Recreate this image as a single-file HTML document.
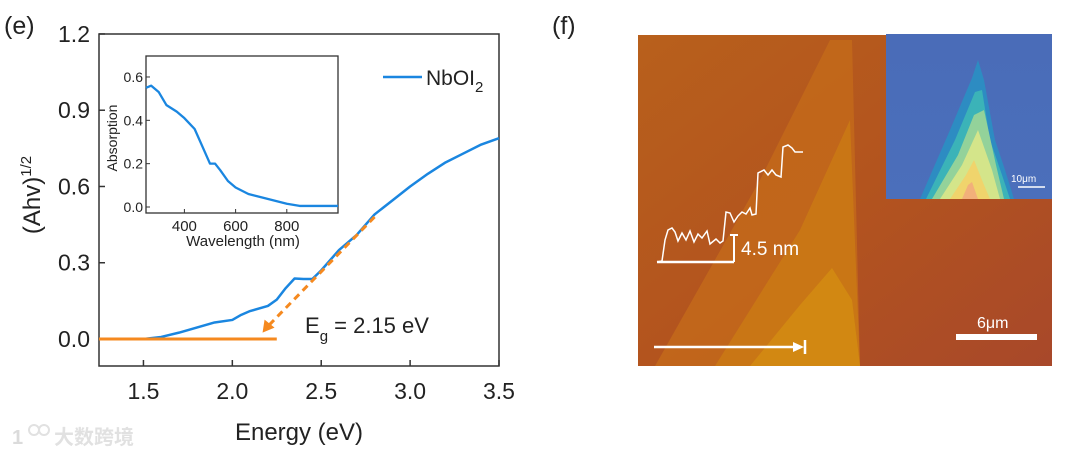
<!DOCTYPE html>
<html><head><meta charset="utf-8"><style>
html,body{margin:0;padding:0;background:#fff;width:1080px;height:456px;overflow:hidden}
svg text{font-family:"Liberation Sans","Noto Sans CJK SC",sans-serif}
</style></head><body>
<svg id="fig" width="1080" height="456" viewBox="0 0 1080 456" xmlns="http://www.w3.org/2000/svg">
<defs>
<linearGradient id="bgGrad" x1="0" y1="0" x2="1" y2="1">
<stop offset="0" stop-color="#b8601c"/><stop offset="0.5" stop-color="#b3541e"/><stop offset="1" stop-color="#a8482a"/>
</linearGradient>
<linearGradient id="insGrad" x1="0" y1="0" x2="0" y2="1">
<stop offset="0" stop-color="#4a6cb8"/><stop offset="1" stop-color="#4b6fbb"/>
</linearGradient>
</defs>
<text x="4" y="34" font-size="25" fill="#222">(e)</text>
<text x="552" y="34" font-size="25" fill="#222">(f)</text>
<g id="main"></g>
<g id="inset"></g>

<g>
<rect x="638" y="35" width="414" height="331" fill="url(#bgGrad)"/>
<polygon points="655,366 760,180 830,40 852,40 860,366" fill="#c46a1a" opacity="0.8"/>
<polygon points="715,366 800,230 850,120 860,366" fill="#cb7a14" opacity="0.8"/>
<polygon points="750,366 800,305 832,268 852,300 860,366" fill="#d38c12" opacity="0.85"/>
<polyline points="657,262 662,261 665,240 668,230 672,228 675,232 678,241 682,233 686,240 690,231 694,242 698,234 702,238 707,231 710,244 716,239 720,243 723,241 726,212 730,213 734,222 738,216 742,212 746,214 750,208 752,215 756,214 758,173 764,170 768,175 772,170 776,175 781,177 783,147 788,145 792,148 795,152 803,152" fill="none" stroke="#fff" stroke-width="1.5"/>
<line x1="657" y1="262" x2="734" y2="262" stroke="#fff" stroke-width="2.5"/>
<line x1="734" y1="235" x2="734" y2="262" stroke="#fff" stroke-width="2"/>
<line x1="730" y1="235" x2="738" y2="235" stroke="#fff" stroke-width="2"/>
<text x="741" y="255" font-size="19" fill="#fff">4.5 nm</text>
<line x1="654" y1="347" x2="798" y2="347" stroke="#fff" stroke-width="2.5"/>
<polygon points="804,347 793,342 793,352" fill="#fff"/>
<line x1="805" y1="340" x2="805" y2="354" stroke="#fff" stroke-width="2.5"/>
<rect x="956" y="334" width="81" height="6" fill="#fff"/>
<text x="977" y="328" font-size="16" fill="#fff">6μm</text>
<g>
<rect x="886" y="34" width="166" height="165" fill="url(#insGrad)"/>
<polygon points="920,199 950,130 972,78 978,60 984,80 995,140 1005,170 1014,199" fill="#2d8cc2"/>
<polygon points="926,199 955,140 975,92 982,90 990,140 1002,175 1010,199" fill="#3bb3b8"/>
<polygon points="932,199 958,155 974,115 984,110 996,165 1004,199" fill="#93d29a"/>
<polygon points="940,199 962,165 978,130 992,170 1000,199" fill="#d4e58a"/>
<polygon points="950,199 966,175 974,160 984,185 990,199" fill="#f0d46c"/>
<polygon points="962,199 968,185 972,182 978,199" fill="#f2b07a"/>
<line x1="1018" y1="187" x2="1045" y2="187" stroke="#fff" stroke-width="1.5"/>
<text x="1011" y="182" font-size="10" fill="#fff">10μm</text>
</g>
</g>
<g opacity="0.35">
<text x="12" y="444" font-size="20" fill="#999" font-weight="bold">1</text>
<circle cx="34" cy="430" r="5" fill="none" stroke="#aaa" stroke-width="2"/>
<circle cx="44" cy="430" r="5" fill="none" stroke="#aaa" stroke-width="2"/>
<text x="54" y="444" font-size="20" fill="#aaa" font-weight="bold">大数跨境</text>
</g>
</svg>
<script>
const NS='http://www.w3.org/2000/svg';
const energy=[1.25,1.4,1.5,1.6,1.7,1.8,1.9,2.0,2.05,2.1,2.2,2.25,2.3,2.35,2.4,2.45,2.5,2.6,2.7,2.8,2.9,3.0,3.1,3.2,3.3,3.4,3.5];
const ahv=[0,0,0,0.008,0.025,0.045,0.065,0.075,0.095,0.11,0.13,0.155,0.2,0.238,0.236,0.236,0.27,0.35,0.41,0.49,0.545,0.6,0.65,0.695,0.73,0.765,0.79];
const xTicks=[1.5,2.0,2.5,3.0,3.5];
const xTickLabels=['1.5','2.0','2.5','3.0','3.5'];
const yTicks=[0,0.3,0.6,0.9,1.2];
const yTickLabels=['0.0','0.3','0.6','0.9','1.2'];
const fitLine=[[2.8,0.48],[2.17,0.025]];
const baseLine=[[1.25,0],[2.25,0]];
const wavelength=[250,270,300,330,370,400,440,470,500,520,540,570,600,650,700,750,800,850,900,1000];
const absorption=[0.55,0.56,0.53,0.47,0.44,0.41,0.36,0.28,0.2,0.2,0.17,0.12,0.09,0.06,0.045,0.03,0.015,0.005,0.005,0.005];
const inXTicks=[400,600,800];
const inXTickLabels=['400','600','800'];
const inYTicks=[0,0.2,0.4,0.6];
const inYTickLabels=['0.0','0.2','0.4','0.6'];

function mk(parent,tag,attrs){const e=document.createElementNS(NS,tag);for(const k in attrs)e.setAttribute(k,attrs[k]);parent.appendChild(e);return e;}
const X=v=>99+(v-1.25)*400/2.25;
const Y=v=>339-v*254.2;
const m=document.getElementById('main');
let r=mk(m,'rect',{x:99,y:34,width:400,height:332,fill:'none',stroke:'#333','stroke-width':1.5});


xTicks.forEach((t,i)=>{
 mk(m,'line',{x1:X(t),x2:X(t),y1:366,y2:360,stroke:'#333','stroke-width':1.5});
 const tx=mk(m,'text',{x:X(t),y:399,'font-size':23,'text-anchor':'middle',fill:'#222'});tx.textContent=xTickLabels[i];
 
 
});
yTicks.forEach((t,i)=>{
 mk(m,'line',{x1:99,x2:105,y1:Y(t),y2:Y(t),stroke:'#333','stroke-width':1.5});
 const tx=mk(m,'text',{x:90,y:Y(t)+8,'font-size':23,'text-anchor':'end',fill:'#222'});tx.textContent=yTickLabels[i];
 
 
});
let xt=mk(m,'text',{x:299,y:440,'font-size':24,'text-anchor':'middle',fill:'#222'});xt.textContent='Energy (eV)';


let yt=mk(m,'text',{transform:'translate(40,195) rotate(-90)','font-size':24,'text-anchor':'middle',fill:'#222'});
yt.innerHTML='(Ahv)<tspan dy="-9" font-size="15">1/2</tspan>';


let cv=mk(m,'polyline',{points:energy.map((e,i)=>X(e)+','+Y(ahv[i])).join(' '),fill:'none',stroke:'#1a86e0','stroke-width':2.5,'stroke-linejoin':'round'});


let bl=mk(m,'line',{x1:X(baseLine[0][0]),y1:Y(baseLine[0][1]),x2:X(baseLine[1][0]),y2:Y(baseLine[1][1]),stroke:'#f5891f','stroke-width':3});


let fl=mk(m,'line',{x1:X(fitLine[0][0]),y1:Y(fitLine[0][1]),x2:X(fitLine[1][0])+5,y2:Y(fitLine[1][1])-6,stroke:'#f5891f','stroke-width':3,'stroke-dasharray':'7,5'});


const ax=X(fitLine[1][0]),ay=Y(fitLine[1][1]);
let ah=mk(m,'polygon',{points:`${ax},${ay} ${ax+2},${ay-13} ${ax+12},${ay-5}`,fill:'#f5891f'});


let eg=mk(m,'text',{x:305,y:333,'font-size':22,fill:'#222'});
eg.innerHTML='E<tspan dy="8" font-size="15">g</tspan><tspan dy="-8"> = 2.15 eV</tspan>';


let lg=mk(m,'line',{x1:383,x2:422,y1:77,y2:77,stroke:'#1a86e0','stroke-width':2.5});


let lt=mk(m,'text',{x:426,y:85,'font-size':21,fill:'#222'});
lt.innerHTML='NbOI<tspan dy="7" font-size="15">2</tspan>';



const IX=v=>146+(v-250)*192/750;
const IY=v=>207-v*216.7;
const g=document.getElementById('inset');
let ir=mk(g,'rect',{x:146,y:56,width:192,height:157,fill:'#fff',stroke:'#333','stroke-width':1.3});


inXTicks.forEach((t,i)=>{
 mk(g,'line',{x1:IX(t),x2:IX(t),y1:213,y2:209,stroke:'#333'});
 const tx=mk(g,'text',{x:IX(t),y:231,'font-size':15,'text-anchor':'middle',fill:'#222'});tx.textContent=inXTickLabels[i];
 
 
});
inYTicks.forEach((t,i)=>{
 mk(g,'line',{x1:146,x2:150,y1:IY(t),y2:IY(t),stroke:'#333'});
 const tx=mk(g,'text',{x:143,y:IY(t)+5,'font-size':14,'text-anchor':'end',fill:'#222'});tx.textContent=inYTickLabels[i];
 
 
});
let ixt=mk(g,'text',{x:243,y:246,'font-size':15,'text-anchor':'middle',fill:'#222'});ixt.textContent='Wavelength (nm)';


let iyt=mk(g,'text',{transform:'translate(117,138) rotate(-90)','font-size':14,'text-anchor':'middle',fill:'#222'});iyt.textContent='Absorption';


let ic=mk(g,'polyline',{points:wavelength.map((w,i)=>IX(w)+','+IY(absorption[i])).join(' '),fill:'none',stroke:'#1a86e0','stroke-width':2.3,'stroke-linejoin':'round'});


</script>
</body></html>
